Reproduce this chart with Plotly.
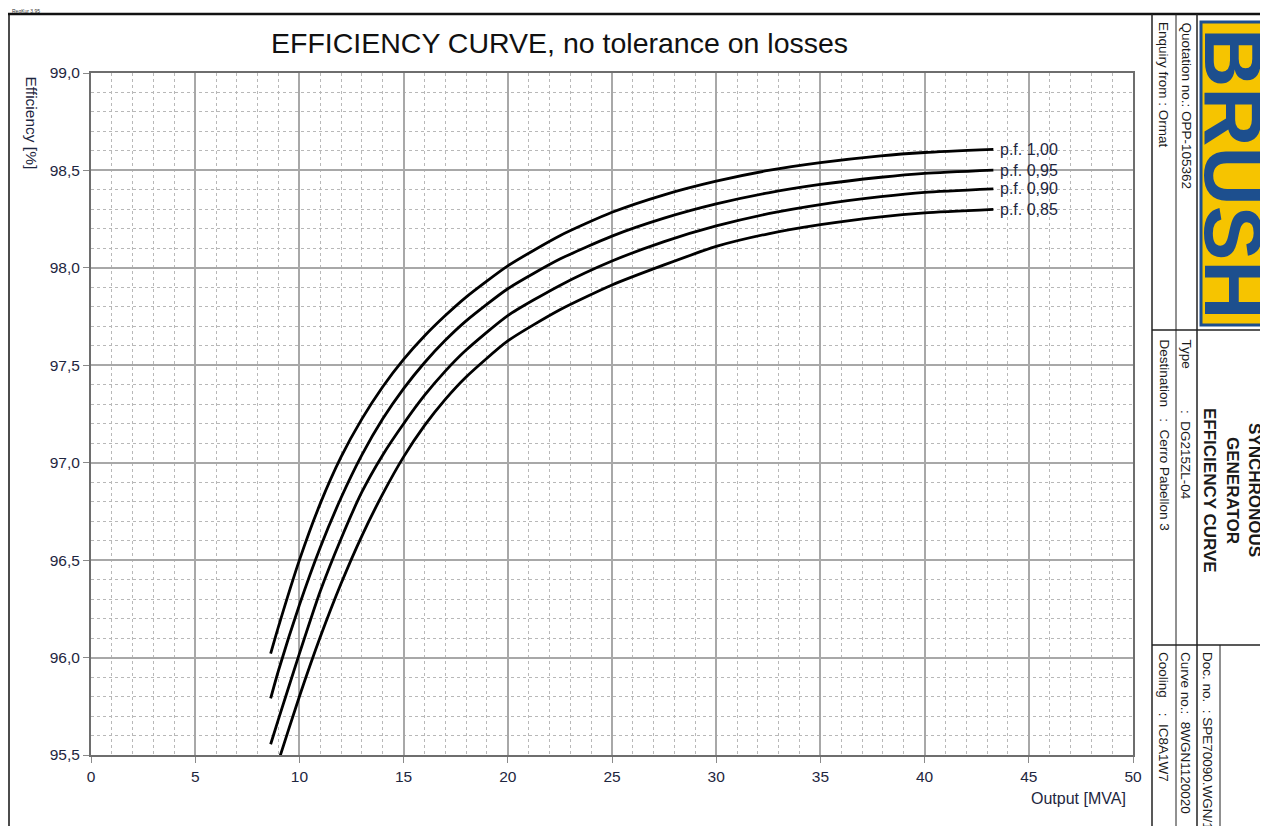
import plotly.graph_objects as go

# ---------------- data ----------------
output_mva = [8.62, 9, 10, 11, 12, 13, 14, 15, 16, 17, 18, 20, 22.5, 25, 27.5, 30, 32.5, 35, 37.9, 40, 43.3]
eff_pf100 = [96.02, 96.16, 96.50, 96.79, 97.03, 97.225, 97.39, 97.53, 97.65, 97.755, 97.85, 98.01, 98.165, 98.285, 98.375, 98.445, 98.50, 98.54, 98.575, 98.592, 98.608]
eff_pf095 = [95.79, 95.935, 96.27, 96.565, 96.82, 97.04, 97.225, 97.38, 97.513, 97.628, 97.728, 97.893, 98.045, 98.163, 98.255, 98.328, 98.385, 98.428, 98.465, 98.485, 98.502]
eff_pf090 = [95.555, 95.685, 96.02, 96.34, 96.61, 96.85, 97.04, 97.20, 97.345, 97.47, 97.578, 97.755, 97.91, 98.035, 98.135, 98.215, 98.278, 98.325, 98.365, 98.387, 98.405]
eff_pf085 = [95.34, 95.47, 95.80, 96.105, 96.38, 96.625, 96.84, 97.03, 97.19, 97.325, 97.44, 97.625, 97.785, 97.912, 98.015, 98.11, 98.175, 98.222, 98.262, 98.282, 98.30]
pf_labels = ["p.f. 1,00", "p.f. 0,95", "p.f. 0,90", "p.f. 0,85"]
x_ticks = [0, 5, 10, 15, 20, 25, 30, 35, 40, 45, 50]
y_ticks = [95.5, 96.0, 96.5, 97.0, 97.5, 98.0, 98.5, 99.0]

title_text = "EFFICIENCY CURVE, no tolerance on losses"
x_title = "Output [MVA]"
y_title = "Efficiency [%]"

# ---------------- layout geometry (page pixels; page has an 8px body margin) ----------------
OFF = 8
W, H = 1268 - OFF, 826 - OFF
L, R, T, B = 91, 1133, 73, 755


def px(x):
    return (x - L) / (R - L)


def py(y):
    return (B - y) / (B - T)


TXT = "#1e2640"
FONT = "Liberation Sans, Arial, sans-serif"
NARROW = "Liberation Sans Narrow, Arial Narrow, Liberation Sans, Arial, sans-serif"

fig = go.Figure()
series = [eff_pf100, eff_pf095, eff_pf090, eff_pf085]
for lab, ys in zip(pf_labels, series):
    fig.add_trace(go.Scatter(x=output_mva, y=ys, mode="lines", name=lab,
                             line=dict(color="black", width=2.8, shape="spline", smoothing=0.6),
                             showlegend=False, hoverinfo="x+y"))

annotations = []
for lab, ys in zip(pf_labels, series):
    annotations.append(dict(x=output_mva[-1], y=ys[-1], xref="x", yref="y", text=lab,
                            showarrow=False, xanchor="left", yanchor="middle", xshift=5,
                            font=dict(family=FONT, size=16, color=TXT)))

# title and axis titles
annotations.append(dict(x=px(559), y=py(43), xref="paper", yref="paper", text=title_text,
                        showarrow=False, xanchor="center", yanchor="middle",
                        font=dict(family=FONT, size=28.5, color="#111111")))
annotations.append(dict(x=px(1128), y=py(798), xref="paper", yref="paper", text=x_title,
                        showarrow=False, xanchor="right", yanchor="middle",
                        font=dict(family=FONT, size=16, color=TXT)))
annotations.append(dict(x=px(31), y=py(74), xref="paper", yref="paper", text=y_title,
                        showarrow=False, xanchor="center", yanchor="top", textangle=90,
                        font=dict(family=FONT, size=15.5, color=TXT)))
annotations.append(dict(x=px(10), y=py(11), xref="paper", yref="paper", text="RegKur 3.95",
                        showarrow=False, xanchor="left", yanchor="middle",
                        font=dict(family=FONT, size=5, color="#333333")))

NB = "\u00a0"


def vtext(x, ytop, text, size=14, bold=False, family=NARROW, color="#1a1a1a", anchor="top"):
    t = "<b>" + text + "</b>" if bold else text
    return dict(x=px(x), y=py(ytop), xref="paper", yref="paper", text=t, showarrow=False,
                xanchor="center", yanchor=anchor, textangle=90,
                font=dict(family=family, size=size, color=color))


annotations += [
    vtext(1164, 20, "Enquiry from" + NB + ":" + NB + "Ormat", size=13.5),
    vtext(1186, 20, "Quotation no.:" + NB + "OPP-105362", size=13.5),
    vtext(1164, 337, "Destination" + NB * 3 + ":" + NB * 2 + "Cerro Pabellon 3", size=13.5),
    vtext(1186, 337, "Type", size=13.5),
    vtext(1186, 408, ":" + NB + NB + "DG215ZL-04", size=13.5),
    vtext(1164, 650, "Cooling" + NB * 4 + ":" + NB * 2 + "IC8A1W7", size=13.5),
    vtext(1186, 650, "Curve no.:" + NB + NB + "8WGN1120020", size=13.5),
    vtext(1208, 650, "Doc." + NB + "no." + NB + NB + ":" + NB + "SPE70090.WGN/1", size=13.5),
    vtext(1255, 490, "SYNCHRONOUS", size=17, bold=True, family=FONT, anchor="middle"),
    vtext(1233, 490, "GENERATOR", size=17, bold=True, family=FONT, anchor="middle"),
    vtext(1210, 490, "EFFICIENCY CURVE", size=17, bold=True, family=FONT, anchor="middle"),
    vtext(1234, 174, "BRUSH", size=82, bold=True, family=FONT, color="#1d4f8e", anchor="middle"),
]

shapes = []


def hline(x0, x1, y, w=1, c="#222222"):
    shapes.append(dict(type="line", xref="paper", yref="paper", x0=px(x0), x1=px(x1),
                       y0=py(y), y1=py(y), line=dict(color=c, width=w), layer="above"))


def vline(x, y0, y1, w=1, c="#222222"):
    shapes.append(dict(type="line", xref="paper", yref="paper", x0=px(x), x1=px(x),
                       y0=py(y0), y1=py(y1), line=dict(color=c, width=w), layer="above"))


# BRUSH logo box
shapes.append(dict(type="rect", xref="paper", yref="paper", x0=px(1201), x1=px(1266),
                   y0=py(22), y1=py(325), fillcolor="#f6c400",
                   line=dict(color="#1d4f8e", width=3), layer="below"))
# outer frame
hline(8, 1268, 14, w=2.5, c="#111111")
vline(9, 14, 826, w=1.5, c="#111111")
# title block grid
vline(1152, 14, 826, w=1.5)
vline(1176, 14, 826, w=1)
vline(1197, 14, 826, w=1.5)
hline(1152, 1268, 330, w=1.5)
hline(1152, 1268, 645, w=1.5)
vline(1220, 645, 826, w=1)

fig.update_layout(
    width=W, height=H,
    margin=dict(l=L - OFF, r=(1268 - OFF) - (R - OFF), t=T - OFF, b=H - (B - OFF), pad=0),
    paper_bgcolor="white", plot_bgcolor="white",
    separators=",.",
    annotations=annotations, shapes=shapes,
    xaxis=dict(range=[0, 50], tickvals=x_ticks, ticktext=[str(v) for v in x_ticks],
               showgrid=True, gridcolor="#a8a8a8", gridwidth=1.5,
               minor=dict(dtick=1, showgrid=True, gridcolor="#b8b8b8", griddash="dot", gridwidth=1),
               showline=True, linecolor="#6e6e6e", linewidth=2, mirror=True,
               ticks="outside", ticklen=6, tickcolor="#8a8a8a", tickwidth=1,
               zeroline=False, tickfont=dict(family=FONT, size=15.5, color=TXT)),
    yaxis=dict(range=[95.5, 99.0], tickvals=y_ticks, tickformat=".1f",
               showgrid=True, gridcolor="#a8a8a8", gridwidth=1.5,
               minor=dict(dtick=0.1, showgrid=True, gridcolor="#b8b8b8", griddash="dot", gridwidth=1),
               showline=True, linecolor="#6e6e6e", linewidth=2, mirror=True,
               ticks="outside", ticklen=6, tickcolor="#8a8a8a", tickwidth=1,
               zeroline=False, tickfont=dict(family=FONT, size=15.5, color=TXT)),
)

fig.write_html("out.html")
